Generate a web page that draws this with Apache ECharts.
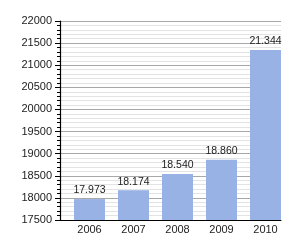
<!DOCTYPE html>
<html>
<head>
<meta charset="utf-8">
<script src="https://cdn.jsdelivr.net/npm/echarts@6/dist/echarts.min.js"></script>
<style>
  html, body { margin: 0; padding: 0; background: #fff; }
  #chart { width: 300px; height: 250px; }
</style>
</head>
<body>
<div id="chart"></div>
<script>
const years = ['2006', '2007', '2008', '2009', '2010'];
const population = [17973, 18174, 18540, 18860, 21344];

const font = 'Liberation Sans, Arial, sans-serif';

// "17973" -> "17.973"
function fmt(v) {
  return String(v).replace(/\B(?=(\d{3})+(?!\d))/g, '.');
}

const chart = echarts.init(document.getElementById('chart'));

chart.setOption({
  animation: false,
  grid: [
    // axis + gridlines
    { left: 60, right: 19, top: 21, bottom: 30 },
    // bars (shifted right like the original)
    { left: 67.5, right: 12.5, top: 21, bottom: 30 }
  ],
  xAxis: [
    {
      gridIndex: 0,
      type: 'category',
      data: years,
      axisLine: { lineStyle: { color: '#000', width: 1 } },
      axisTick: { show: false },
      axisLabel: { show: false }
    },
    {
      gridIndex: 1,
      type: 'category',
      data: years,
      axisLine: { show: false },
      axisTick: { show: false },
      axisLabel: { color: '#222', fontSize: 11, fontFamily: font, margin: 4 }
    }
  ],
  yAxis: [
    {
      gridIndex: 0,
      type: 'value',
      min: 17500,
      max: 22000,
      interval: 500,
      axisLine: { show: true, lineStyle: { color: '#000', width: 1.2 } },
      axisTick: { show: true, inside: false, length: 5, lineStyle: { color: '#000' } },
      minorTick: { show: true, splitNumber: 5, length: 3, lineStyle: { color: '#000' } },
      splitLine: { lineStyle: { color: '#a8a8a8', width: 1 } },
      minorSplitLine: { show: true, lineStyle: { color: '#e3e3e3', width: 1 } },
      axisLabel: {
        color: '#222',
        fontSize: 11,
        fontFamily: font,
        margin: 8,
        formatter: v => String(v)
      }
    },
    {
      gridIndex: 1,
      type: 'value',
      min: 17500,
      max: 22000,
      show: false
    }
  ],
  series: [
    {
      type: 'bar',
      xAxisIndex: 1,
      yAxisIndex: 1,
      data: population,
      barWidth: 31,
      itemStyle: { color: '#99b2e5' },
      label: {
        show: true,
        position: 'top',
        distance: 3,
        color: '#222',
        fontSize: 10.5,
        fontFamily: font,
        formatter: p => fmt(p.value)
      }
    }
  ]
});
</script>
</body>
</html>
